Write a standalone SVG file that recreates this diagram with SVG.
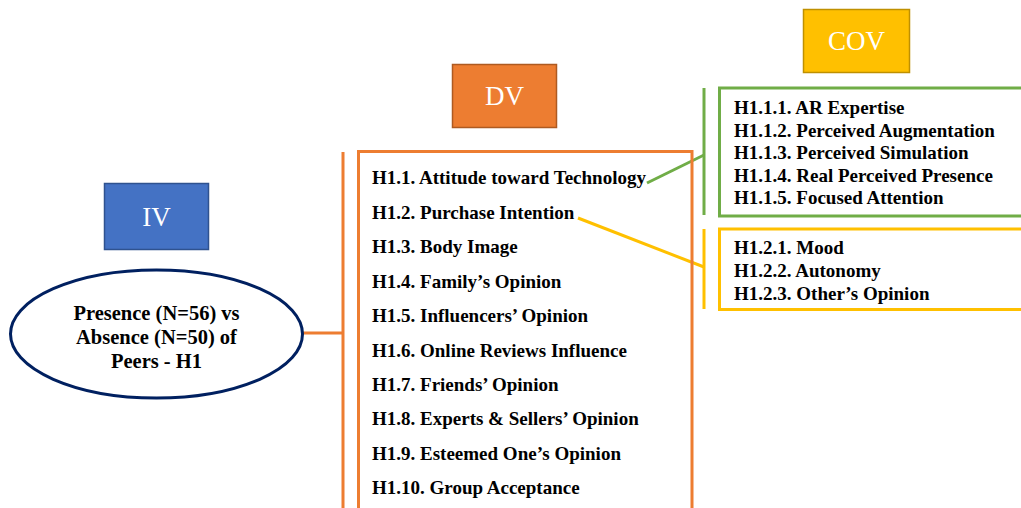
<svg xmlns="http://www.w3.org/2000/svg" width="1021" height="508" viewBox="0 0 1021 508">
  <style>
    .hdr { font-family: "Liberation Serif", "Times New Roman", serif; font-size: 27px; fill: #ffffff; text-anchor: middle; }
    .item { font-family: "Liberation Serif", "Times New Roman", serif; font-size: 19px; font-weight: bold; fill: #000000; }
    .sub { font-family: "Liberation Serif", "Times New Roman", serif; font-size: 19px; font-weight: bold; fill: #000000; }
    .ell { font-family: "Liberation Serif", "Times New Roman", serif; font-size: 20.5px; font-weight: bold; fill: #000000; text-anchor: middle; }
    .orange { stroke: #ED7D31; stroke-width: 3; fill: none; }
    .green { stroke: #70AD47; stroke-width: 3; fill: none; }
    .yellow { stroke: #FFC000; stroke-width: 3; fill: none; }
  </style>
  <rect width="1021" height="508" fill="#ffffff"/>

  <!-- connectors -->
  <g id="connectors">
    <line class="orange" x1="303" y1="333" x2="343" y2="333"/>
    <line class="orange" x1="343" y1="152" x2="343" y2="508"/>
    <line class="green" x1="647" y1="183" x2="704" y2="155"/>
    <line class="green" x1="704" y1="88" x2="704" y2="215"/>
    <line class="yellow" x1="578" y1="218" x2="704" y2="267"/>
    <line class="yellow" x1="704" y1="229" x2="704" y2="309"/>
  </g>

  <!-- independent variable -->
  <g id="iv-label">
    <rect x="104.5" y="183.5" width="104" height="66" fill="#4472C4" stroke="#2F528F" stroke-width="1.5"/>
    <text class="hdr" x="156.5" y="226">IV</text>
  </g>
  <g id="iv-node">
    <ellipse cx="156.5" cy="334" rx="146" ry="64" fill="#ffffff" stroke="#002060" stroke-width="3"/>
    <text class="ell" x="156.5" y="319.5">Presence (N=56) vs</text>
    <text class="ell" x="156.5" y="343.5">Absence (N=50) of</text>
    <text class="ell" x="156.5" y="367.5">Peers - H1</text>
  </g>

  <!-- dependent variables -->
  <g id="dv-label">
    <rect x="452.5" y="64.5" width="104" height="63" fill="#ED7D31" stroke="#AE5A21" stroke-width="1.5"/>
    <text class="hdr" x="504.5" y="105">DV</text>
  </g>
  <g id="dv-list">
    <path class="orange" d="M358.5,510 V151.5 H692 V510"/>
    <text class="item" x="372" y="184">H1.1. Attitude toward Technology</text>
    <text class="item" x="372" y="218.5">H1.2. Purchase Intention</text>
    <text class="item" x="372" y="253">H1.3. Body Image</text>
    <text class="item" x="372" y="287.5">H1.4. Family’s Opinion</text>
    <text class="item" x="372" y="322">H1.5. Influencers’ Opinion</text>
    <text class="item" x="372" y="356.5">H1.6. Online Reviews Influence</text>
    <text class="item" x="372" y="391">H1.7. Friends’ Opinion</text>
    <text class="item" x="372" y="425">H1.8. Experts &amp; Sellers’ Opinion</text>
    <text class="item" x="372" y="459.5">H1.9. Esteemed One’s Opinion</text>
    <text class="item" x="372" y="494">H1.10. Group Acceptance</text>
  </g>

  <!-- covariates -->
  <g id="cov-label">
    <rect x="803.5" y="9.5" width="106" height="63" fill="#FFC000" stroke="#BF9000" stroke-width="1.5"/>
    <text class="hdr" x="856.5" y="50">COV</text>
  </g>
  <g id="cov-attitude">
    <path class="green" d="M1023,88 H719.5 V216 H1023"/>
    <text class="sub" x="734" y="114">H1.1.1. AR Expertise</text>
    <text class="sub" x="734" y="136.5">H1.1.2. Perceived Augmentation</text>
    <text class="sub" x="734" y="159">H1.1.3. Perceived Simulation</text>
    <text class="sub" x="734" y="181.5">H1.1.4. Real Perceived Presence</text>
    <text class="sub" x="734" y="204">H1.1.5. Focused Attention</text>
  </g>
  <g id="cov-purchase">
    <path class="yellow" d="M1023,229 H719.5 V309.5 H1023"/>
    <text class="sub" x="734" y="254">H1.2.1. Mood</text>
    <text class="sub" x="734" y="277">H1.2.2. Autonomy</text>
    <text class="sub" x="734" y="300">H1.2.3. Other’s Opinion</text>
  </g>
</svg>
